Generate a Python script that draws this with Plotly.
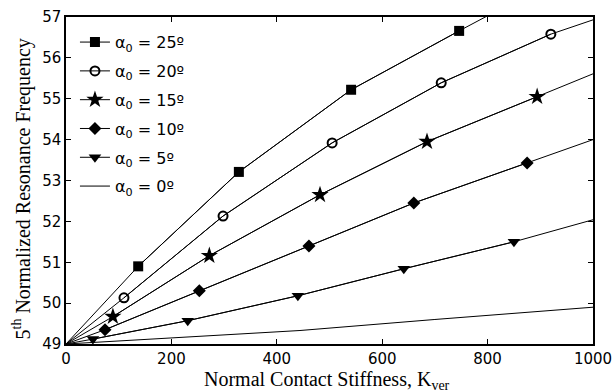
import plotly.graph_objects as go

# ---- data ----
labels = ["α<sub>0</sub> = 25º", "α<sub>0</sub> = 20º", "α<sub>0</sub> = 15º",
          "α<sub>0</sub> = 10º", "α<sub>0</sub> = 5º", "α<sub>0</sub> = 0º"]
x_title = "Normal Contact Stiffness, K<sub>ver</sub>"
y_title = "5<sup>th</sup> Normalized Resonance Frequency"

# curve (line) samples
line_x_25 = [0, 137, 328, 541, 746, 800]
line_y_25 = [49.0, 50.9, 53.21, 55.22, 56.66, 57.03]
line_x_20 = [0, 110, 298, 505, 712, 920, 1000]
line_y_20 = [49.0, 50.13, 52.13, 53.92, 55.39, 56.58, 56.93]
line_x_15 = [0, 89, 272, 482, 685, 894, 1000]
line_y_15 = [49.0, 49.67, 51.16, 52.65, 53.95, 55.05, 55.61]
line_x_10 = [0, 74, 253, 461, 660, 875, 1000]
line_y_10 = [49.0, 49.35, 50.30, 51.40, 52.45, 53.43, 54.0]
line_x_5 = [0, 51, 231, 440, 641, 850, 1000]
line_y_5 = [49.0, 49.12, 49.57, 50.18, 50.84, 51.50, 52.04]
line_x_0 = [0, 220, 444, 700, 1000]
line_y_0 = [49.0, 49.16, 49.33, 49.60, 49.90]

# marker samples
mk_x_25 = [137, 328, 541, 746]
mk_y_25 = [50.9, 53.21, 55.22, 56.66]
mk_x_20 = [110, 298, 505, 712, 920]
mk_y_20 = [50.13, 52.13, 53.92, 55.39, 56.58]
mk_x_15 = [89, 272, 482, 685, 894]
mk_y_15 = [49.67, 51.16, 52.65, 53.95, 55.05]
mk_x_10 = [74, 253, 461, 660, 875]
mk_y_10 = [49.35, 50.30, 51.40, 52.45, 53.43]
mk_x_5 = [51, 231, 440, 641, 850]
mk_y_5 = [49.12, 49.57, 50.18, 50.84, 51.50]

x_ticks = [0, 200, 400, 600, 800, 1000]
y_ticks = [49, 50, 51, 52, 53, 54, 55, 56, 57]

series = [
    (line_x_25, line_y_25, mk_x_25, mk_y_25, dict(symbol="square", size=10, color="black")),
    (line_x_20, line_y_20, mk_x_20, mk_y_20, dict(symbol="circle-open", size=9, color="black", line=dict(width=2, color="black"))),
    (line_x_15, line_y_15, mk_x_15, mk_y_15, dict(symbol="star", size=13, color="black")),
    (line_x_10, line_y_10, mk_x_10, mk_y_10, dict(symbol="diamond", size=10, color="black")),
    (line_x_5, line_y_5, mk_x_5, mk_y_5, dict(symbol="triangle-down", size=11, color="black")),
    (line_x_0, line_y_0, None, None, None),
]

fig = go.Figure()
for i, (lx, ly, mx, my, mk) in enumerate(series):
    g = f"g{i}"
    if mk is None:
        fig.add_trace(go.Scatter(x=lx, y=ly, mode="lines", name=labels[i],
                                 line=dict(color="black", width=1),
                                 legendgroup=g, showlegend=True))
    else:
        fig.add_trace(go.Scatter(x=lx, y=ly, mode="lines",
                                 line=dict(color="black", width=1),
                                 legendgroup=g, showlegend=False, hoverinfo="skip"))
        fig.add_trace(go.Scatter(x=mx, y=my, mode="lines+markers", name=labels[i],
                                 line=dict(color="black", width=1), marker=mk,
                                 legendgroup=g, showlegend=True))

axis_common = dict(showgrid=False, zeroline=False, showline=True, linecolor="black",
                   linewidth=1.5, mirror="ticks", ticks="inside", ticklen=5,
                   tickcolor="black", tickwidth=1, ticklabeloverflow="allow",
                   tickfont=dict(family="DejaVu Sans", size=15, color="black"))

fig.update_xaxes(range=[0, 1000], tickvals=x_ticks, **axis_common)
fig.update_yaxes(range=[49, 57], tickvals=y_ticks, **axis_common)

title_font = dict(family="Liberation Serif", size=20, color="black")
fig.add_annotation(text=x_title, xref="paper", yref="paper", x=0.495, y=0,
                   xanchor="center", yanchor="top", yshift=-22, showarrow=False,
                   font=title_font)
fig.add_annotation(text=y_title, xref="paper", yref="paper", x=-0.0835, y=0.4755,
                   xanchor="center", yanchor="middle", textangle=-90, showarrow=False,
                   font=title_font)

fig.update_layout(
    width=612, height=392,
    margin=dict(l=66, r=19, t=17, b=48, autoexpand=False),
    paper_bgcolor="white", plot_bgcolor="white",
    showlegend=True,
    legend=dict(x=0.017, y=0.975, xanchor="left", yanchor="top",
                bgcolor="rgba(0,0,0,0)", borderwidth=0,
                font=dict(family="DejaVu Sans", size=16, color="black"),
                tracegroupgap=5, traceorder="grouped"),
)

fig.write_html("out.html")
